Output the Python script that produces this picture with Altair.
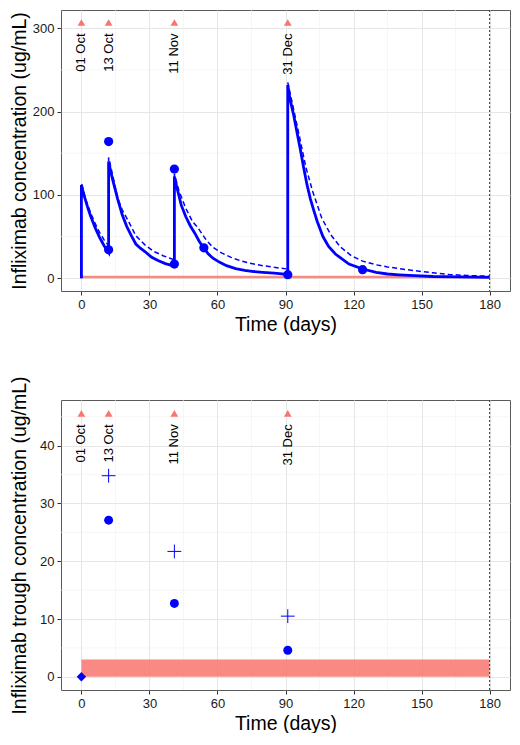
import altair as alt
import pandas as pd

FONT = "Liberation Sans"
BLUE = "#0000FF"
RED = "#F8766D"

# ---- dosing ----
dose_day = [0, 12, 41, 91]
dose_label = ["01 Oct", "13 Oct", "11 Nov", "31 Dec"]
marker_level_top = 307
marker_level_bottom = 45.6

# ---- top panel: individual prediction (solid) ----
ind_day = [0, 0, 1, 2, 3, 4, 5, 6, 7, 8, 9, 10, 11, 12,
           12, 13, 14, 16, 18, 20, 22, 24, 26, 28, 31, 34, 37, 41,
           41, 42, 44, 46, 48, 50, 52, 54, 56, 58, 61, 64, 68, 72, 76, 80, 85, 91,
           91, 92, 93.5, 95, 96.5, 98, 99.5, 101, 102.5, 104, 106.5, 109, 112, 114,
           118, 124, 130, 135, 140, 147, 155, 165, 180]
ind_conc = [0, 112, 101, 92, 83, 75, 68, 61, 55, 49, 44, 39, 35, 31,
            140, 127, 116, 95, 76, 62, 51, 41, 36, 32, 25, 21, 17.5, 14.5,
            122, 110, 88, 74, 63, 54, 44, 36, 29, 24, 19, 15, 11.5, 9.5, 8, 7, 6, 4.5,
            232, 215, 197, 176, 155, 133, 112, 95, 81, 68, 50, 38, 29, 25,
            17, 11, 7, 5, 4, 3, 2, 1.5, 1]

# ---- top panel: population prediction (dashed) ----
pop_day = [0, 0, 2, 4, 6, 8, 10, 12,
           12, 14, 16, 18, 21, 24, 28, 32, 36, 41,
           41, 43, 46, 49, 51.5, 55, 58, 62, 66, 70, 75, 80, 85, 91,
           91, 93, 96, 99, 102, 106, 110, 114, 119, 124, 130, 135, 140, 147,
           155, 162, 170, 180]
pop_conc = [0, 114, 94, 79, 66, 55, 46, 39,
            145, 121, 96, 82, 67, 51, 40, 32, 27, 22,
            125, 105, 84, 68, 60, 46, 37, 30, 25, 21, 17.5, 15, 13, 11,
            235, 210, 172, 133, 104, 72, 52, 38, 27, 20.5, 16, 13.5, 11.5, 9,
            6.5, 4.5, 3.2, 2.3]

# ---- top panel: observed concentrations ----
obs_day = [12, 12, 41, 41, 54, 91, 124]
obs_conc = [164, 34, 131, 17, 36.5, 4.2, 10.2]

# ---- bottom panel: troughs ----
trough_obs_day = [12, 41, 91]
trough_obs = [27.1, 12.7, 4.6]
trough_pred_day = [12, 41, 91]
trough_pred = [34.8, 21.7, 10.5]
baseline_day = [0]
baseline_conc = [0]

# target band and follow-up window
target_range = [0, 3]
window = [0, 180]

x_major = [0, 30, 60, 90, 120, 150, 180]
x_minor = [15, 45, 75, 105, 135, 165]
ytop_major = [0, 100, 200, 300]
ytop_minor = [50, 150, 250]
ybot_major = [0, 10, 20, 30, 40]
ybot_minor = [5, 15, 25, 35, 45]

# ---- data frames ----
ind_df = pd.DataFrame({"day": ind_day, "conc": ind_conc, "ord": range(len(ind_day))})
pop_df = pd.DataFrame({"day": pop_day, "conc": pop_conc, "ord": range(len(pop_day))})
obs_df = pd.DataFrame({"day": obs_day, "conc": obs_conc})
band_df = pd.DataFrame({"x0": [window[0]], "x1": [window[1]],
                        "y0": [target_range[0]], "y1": [target_range[1]]})
end_df = pd.DataFrame({"day": [window[1]]})
xminor_df = pd.DataFrame({"v": x_minor})
dose_top_df = pd.DataFrame({"day": dose_day, "label": dose_label,
                            "lvl": [marker_level_top] * len(dose_day)})
dose_bot_df = pd.DataFrame({"day": dose_day, "label": dose_label,
                            "lvl": [marker_level_bottom] * len(dose_day)})
tobs_df = pd.DataFrame({"day": trough_obs_day, "conc": trough_obs})
tpred_df = pd.DataFrame({"day": trough_pred_day, "conc": trough_pred})
base_df = pd.DataFrame({"day": baseline_day, "conc": baseline_conc})

xscale = alt.Scale(domain=[-9, 189], nice=False, zero=False)
ytop_scale = alt.Scale(domain=[-15.4, 322], nice=False, zero=False)
ybot_scale = alt.Scale(domain=[-2.28, 47.9], nice=False, zero=False)

MINOR = dict(color="#F0F0F0", strokeWidth=0.6)


def panel(yscale, ymajor, yminor, ytitle, ypad, dose_df, w, h, extra):
    xaxis = alt.Axis(values=x_major, title="Time (days)", grid=True)
    yaxis = alt.Axis(values=ymajor, title=ytitle, grid=True, titlePadding=ypad)
    xgrid = alt.Chart(xminor_df).mark_rule(**MINOR).encode(
        x=alt.X("v:Q", scale=xscale, axis=xaxis))
    ygrid = alt.Chart(pd.DataFrame({"v": yminor})).mark_rule(**MINOR).encode(
        y=alt.Y("v:Q", scale=yscale, axis=yaxis))
    band = alt.Chart(band_df).mark_rect(color=RED, opacity=0.85).encode(
        x="x0:Q", x2="x1:Q", y="y0:Q", y2="y1:Q")
    endline = alt.Chart(end_df).mark_rule(color="#444444", strokeDash=[2, 2],
                                          strokeWidth=1.1).encode(x="day:Q")
    tri = alt.Chart(dose_df).mark_point(shape="triangle-up", filled=True, color=RED,
                                        size=60, opacity=1).encode(
        x="day:Q", y="lvl:Q")
    txt = alt.Chart(dose_df).mark_text(angle=270, align="right", baseline="middle",
                                       dx=-11, fontSize=13, font=FONT,
                                       color="#000000").encode(
        x="day:Q", y="lvl:Q", text="label:N")
    layers = [xgrid, ygrid, band, endline] + extra() + [tri, txt]
    return alt.layer(*layers).properties(width=w, height=h)


def top_extra():
    solid = alt.Chart(ind_df).mark_line(color=BLUE, strokeWidth=2.8).encode(
        x="day:Q", y="conc:Q", order="ord:Q")
    dashed = alt.Chart(pop_df).mark_line(color=BLUE, strokeWidth=1.5,
                                         strokeDash=[5, 3]).encode(
        x="day:Q", y="conc:Q", order="ord:Q")
    pts = alt.Chart(obs_df).mark_circle(color=BLUE, size=85, opacity=1).encode(
        x="day:Q", y="conc:Q")
    return [dashed, solid, pts]


def bottom_extra():
    pts = alt.Chart(tobs_df).mark_circle(color=BLUE, size=80, opacity=1).encode(
        x="day:Q", y="conc:Q")
    crosses = alt.Chart(tpred_df).mark_point(shape="M-1,0L1,0M0,-1L0,1", filled=False,
                                             color=BLUE, strokeWidth=1, size=190,
                                             opacity=1).encode(
        x="day:Q", y="conc:Q")
    base = alt.Chart(base_df).mark_point(shape="diamond", filled=True, color=BLUE,
                                         size=90, opacity=1).encode(
        x="day:Q", y="conc:Q")
    return [crosses, pts, base]


top = panel(ytop_scale, ytop_major, ytop_minor, "Infliximab concentration (ug/mL)", 3,
            dose_top_df, 449, 281, top_extra)
bottom = panel(ybot_scale, ybot_major, ybot_minor,
               "Infliximab trough concentration (ug/mL)", 10,
               dose_bot_df, 449, 290, bottom_extra)

chart = alt.concat(top, bottom, columns=1, spacing=41).properties(
    padding={"left": 0, "top": 0, "right": 0, "bottom": 0}
).configure_view(
    stroke="#5A5A5A", strokeWidth=1
).configure_axis(
    labelFont=FONT, labelFontSize=13, labelColor="#1A1A1A", labelFlush=False,
    titleFont=FONT, titleFontSize=19.5, titleFontWeight="normal", titleColor="#000000",
    tickColor="#333333", tickSize=4, domain=False, gridColor="#E6E6E6", gridWidth=1,
    labelPadding=3,
).configure_axisX(titlePadding=4)

chart.save("out.html", embed_options={"renderer": "svg", "actions": False})
